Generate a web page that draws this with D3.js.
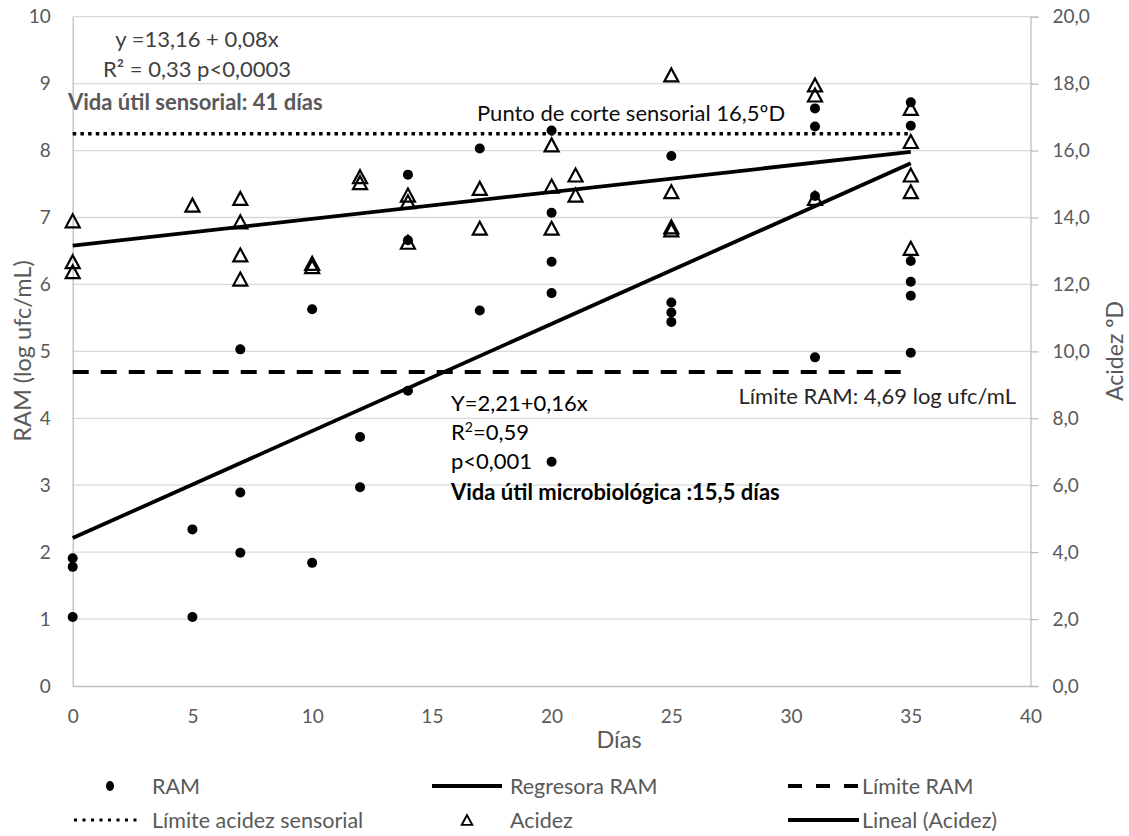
<!doctype html>
<html lang=en>
<head>
<meta charset="utf-8">
<title>RAM y acidez</title>
<style>
body { margin: 0; background: #fff; }
svg text { font-family: Lato, "Open Sans", sans-serif; }
</style>
</head>
<body>
<div id=chart></div>
<script src="https://cdn.jsdelivr.net/npm/d3@7/dist/d3.min.js"></script>
<script>
// valores
var ramDias = [0,0,0, 5,5, 7,7,7, 10,10, 12,12, 14,14,14, 17,17, 20,20,20,20,20, 25,25,25,25, 31,31,31,31, 35,35,35,35,35,35]
var ramVal  = [1.91,1.78,1.03, 2.34,1.03, 5.03,2.89,1.99, 5.63,1.84, 3.72,2.97, 7.64,6.66,4.41, 8.03,5.61,
               8.30,7.07,6.34,5.87,3.35, 7.92,5.73,5.58,5.44, 8.63,8.36,7.32,4.91, 8.72,8.37,6.35,6.04,5.83,4.98]
var acDias  = [0,0,0, 5, 7,7,7,7, 10,10, 12,12, 14,14,14, 17,17, 20,20,20, 21,21, 25,25,25,25, 31,31,31, 35,35,35,35,35]
var acVal   = [13.9,12.68,12.38, 14.37, 14.57,13.87,12.88,12.16, 12.63,12.53, 15.22,15.04, 14.67,14.47,13.26,
               14.87,13.68, 16.17,14.94,13.68, 15.27,14.67, 18.26,14.77,13.72,13.63, 17.96,17.66,14.57,
               17.26,16.27,15.27,14.77,13.08]

// rectas de regresion (extremos) y limites
var regRamX = [0, 35], regRamY = [2.21, 7.81]
var regAcX  = [0, 35], regAcY  = [13.16, 15.96]
var limX = [0, 35]
var limRam = 4.69, limAcidez = 16.5

var xTicks  = [0,5,10,15,20,25,30,35,40]
var yLTicks = [0,1,2,3,4,5,6,7,8,9,10]
var yRTicks = [0,2,4,6,8,10,12,14,16,18,20]

var legendLabels = ["RAM", "Regresora RAM", "Límite RAM", "Límite acidez sensorial", "Acidez", "Lineal (Acidez)"]

var W = 1129, H = 836
var m = {l: 72.7, r: 1030.5, t: 16.7, b: 686}
var gray = "#595959", axisCol = "#bfbfbf", gridCol = "#d9d9d9"

var svg = d3.select("#chart").append("svg").attr("width", W).attr("height", H)

var x  = d3.scaleLinear().domain([0, 40]).range([m.l, m.r])
var yL = d3.scaleLinear().domain([0, 10]).range([m.b, m.t])
var yR = d3.scaleLinear().domain([0, 20]).range([m.b, m.t])

// lineas de cuadricula
svg.append("g").selectAll("line")
  .data(yLTicks.filter(d => d > 0))
  .join("line")
  .attr("x1", m.l).attr("x2", m.r)
  .attr("y1", d => yL(d)).attr("y2", d => yL(d))
  .attr("stroke", gridCol).attr("stroke-width", 1.3)

function styleAxis(g, size) {
  g.select(".domain").attr("stroke", axisCol).attr("stroke-width", 1.3)
  g.selectAll(".tick line").attr("stroke", axisCol).attr("stroke-width", 1.3)
  g.selectAll(".tick text").attr("fill", gray).style("font-size", size + "px")
}

var gx = svg.append("g")
  .attr("transform", "translate(0," + m.b + ")")
  .call(d3.axisBottom(x).tickValues(xTicks).tickSize(0).tickPadding(24))
styleAxis(gx, 19)

var gyl = svg.append("g")
  .attr("transform", "translate(" + m.l + ",0)")
  .call(d3.axisLeft(yL).tickValues(yLTicks).tickSize(0).tickPadding(22))
styleAxis(gyl, 19)

var gyr = svg.append("g")
  .attr("transform", "translate(" + m.r + ",0)")
  .call(d3.axisRight(yR).tickValues(yRTicks).tickSize(8).tickPadding(14)
        .tickFormat(d => d3.format(".1f")(d).replace(".", ",")))
styleAxis(gyr, 19)

// titulos de ejes
svg.append("text")
  .attr("transform", "translate(22,351) rotate(-90)")
  .attr("text-anchor", "middle").attr("dominant-baseline", "central")
  .attr("fill", gray).style("font-size", "23.5px")
  .text("RAM (log ufc/mL)")
svg.append("text")
  .attr("transform", "translate(1114,351) rotate(-90)")
  .attr("text-anchor", "middle").attr("dominant-baseline", "central")
  .attr("fill", gray).style("font-size", "23px")
  .text("Acidez ºD")
svg.append("text")
  .attr("x", 619).attr("y", 739)
  .attr("text-anchor", "middle").attr("dominant-baseline", "central")
  .attr("fill", gray).style("font-size", "23.5px")
  .text("Días")

// limites y regresiones
var lineL = d3.line().x(d => x(d[0])).y(d => yL(d[1]))
var lineR = d3.line().x(d => x(d[0])).y(d => yR(d[1]))

svg.append("path")
  .attr("d", lineL(limX.map(d => [d, limRam])))
  .attr("stroke", "#000").attr("stroke-width", 4).attr("fill", "none")
  .attr("stroke-dasharray", "16,12")
svg.append("path")
  .attr("d", lineR(limX.map(d => [d, limAcidez])))
  .attr("stroke", "#000").attr("stroke-width", 3.5).attr("fill", "none")
  .attr("stroke-dasharray", "3.5,4.2")
svg.append("path")
  .attr("d", lineL(regRamX.map((d, i) => [d, regRamY[i]])))
  .attr("stroke", "#000").attr("stroke-width", 3.8).attr("fill", "none")
svg.append("path")
  .attr("d", lineR(regAcX.map((d, i) => [d, regAcY[i]])))
  .attr("stroke", "#000").attr("stroke-width", 3.8).attr("fill", "none")

// puntos
var tri = "M0,-6.5L7,6.5L-7,6.5Z"
svg.append("g").selectAll("circle")
  .data(ramDias.map((d, i) => [d, ramVal[i]]))
  .join("circle")
  .attr("cx", d => x(d[0])).attr("cy", d => yL(d[1]))
  .attr("r", 5).attr("fill", "#000")
svg.append("g").selectAll("path")
  .data(acDias.map((d, i) => [d, acVal[i]]))
  .join("path")
  .attr("transform", d => "translate(" + x(d[0]) + "," + yR(d[1]) + ")")
  .attr("d", tri).attr("fill", "none").attr("stroke", "#000").attr("stroke-width", 2.2)

// anotaciones
function note(tx, ty, txt, opts) {
  opts = opts || {}
  return svg.append("text")
    .attr("x", tx).attr("y", ty)
    .attr("text-anchor", opts.anchor || "start")
    .attr("fill", opts.fill || "#000")
    .style("font-size", (opts.size || 22) + "px")
    .style("font-weight", opts.bold ? "bold" : "normal")
    .text(txt)
}
note(197, 47, "y =13,16 + 0,08x", {anchor: "middle", fill: "#404040"})
note(197, 77, "R² = 0,33 p<0,0003", {anchor: "middle", fill: "#404040"})
note(68, 110, "Vida útil sensorial: 41 días", {bold: true, fill: "#595959"})
note(477, 121, "Punto de corte sensorial 16,5ºD", {fill: "#0d0d0d"})
note(1016, 404, "Límite RAM: 4,69 log ufc/mL", {anchor: "end", fill: "#262626"})
note(451, 411, "Y=2,21+0,16x")
var r2 = note(451, 440, "R")
r2.append("tspan").attr("dy", -8).style("font-size", "14px").text("2")
r2.append("tspan").attr("dy", 8).text("=0,59")
note(451, 469, "p<0,001")
note(451, 500, "Vida útil microbiológica :15,5 días", {bold: true})

// leyenda
var leg = svg.append("g").style("font-size", "21.5px")
var row1 = 786, row2 = 820
var legItems = [
  {lab: legendLabels[0], tx: 152, ty: row1},
  {lab: legendLabels[1], tx: 510, ty: row1},
  {lab: legendLabels[2], tx: 862, ty: row1},
  {lab: legendLabels[3], tx: 152, ty: row2},
  {lab: legendLabels[4], tx: 510, ty: row2},
  {lab: legendLabels[5], tx: 862, ty: row2}
]
leg.selectAll("text").data(legItems).join("text")
  .attr("x", d => d.tx).attr("y", d => d.ty)
  .attr("dominant-baseline", "central").attr("fill", gray)
  .text(d => d.lab)

leg.append("ellipse").attr("cx", 110).attr("cy", row1).attr("rx", 4).attr("ry", 5).attr("fill", "#000")
leg.append("line").attr("x1", 432).attr("x2", 502).attr("y1", row1).attr("y2", row1)
  .attr("stroke", "#000").attr("stroke-width", 4)
leg.append("line").attr("x1", 788).attr("x2", 859).attr("y1", row1).attr("y2", row1)
  .attr("stroke", "#000").attr("stroke-width", 4).attr("stroke-dasharray", "14,14")
leg.append("line").attr("x1", 74).attr("x2", 139).attr("y1", row2).attr("y2", row2)
  .attr("stroke", "#000").attr("stroke-width", 3).attr("stroke-dasharray", "3,5.5")
leg.append("path").attr("transform", "translate(467," + row2 + ") scale(0.75)")
  .attr("d", tri).attr("fill", "none").attr("stroke", "#000").attr("stroke-width", 2.6)
leg.append("line").attr("x1", 788).attr("x2", 859).attr("y1", row2).attr("y2", row2)
  .attr("stroke", "#000").attr("stroke-width", 4)
</script>
</body>
</html>
